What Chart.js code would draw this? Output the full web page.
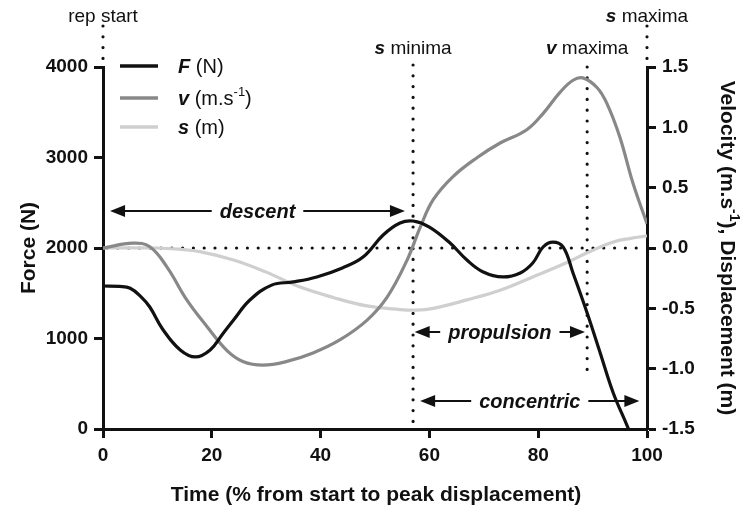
<!DOCTYPE html>
<html><head><meta charset="utf-8">
<script src="https://cdn.jsdelivr.net/npm/chart.js@4"></script>
<style>html,body{margin:0;padding:0;background:#fff;}canvas{display:block;}</style>
</head><body>
<canvas id="c" width="751" height="515"></canvas>
<script>
// ---- data ----
const forceTime = [0,3,5,7,8.6,11,14.2,17,19.7,22,24,27,31,35,39.3,44,47.8,51.5,54.6,57,60,63.8,66.9,69.9,73.5,76.7,79,80.9,82.7,84.6,86.4,89,91.4,93.8,96.3,98,100];
const forceN    = [1580,1575,1555,1460,1348,1100,873,796,873,1050,1204,1425,1590,1625,1680,1780,1900,2144,2276,2298,2232,2055,1867,1735,1680,1724,1834,2011,2066,2011,1724,1282,840,398,44,-200,-450];

const velTime = [0,5.5,8.6,11.8,15.4,19.1,22.8,25.7,29.4,33.8,38.6,43.6,48.5,52.2,55.9,58.3,60.7,64.3,68.8,73,77.9,81,84,86.4,88.2,90.8,92.6,95,97.4,100];
const velMS   = [0,0.04,0.01,-0.16,-0.43,-0.65,-0.85,-0.94,-0.97,-0.94,-0.87,-0.76,-0.60,-0.41,-0.10,0.17,0.40,0.59,0.75,0.87,0.98,1.12,1.29,1.39,1.41,1.33,1.20,0.92,0.54,0.20];

const dispTime = [0,10,14,17.8,24,30,36,42.3,48.5,54.6,57.5,60.7,66.9,73,79,85.3,89,93.8,97,100];
const dispM    = [0,0,-0.01,-0.03,-0.10,-0.20,-0.32,-0.41,-0.48,-0.51,-0.515,-0.50,-0.43,-0.35,-0.24,-0.12,-0.04,0.05,0.08,0.10];

const xTicks = [0,20,40,60,80,100];
const forceTicks = [0,1000,2000,3000,4000];
const velTicks = [-1.5,-1.0,-0.5,0.0,0.5,1.0,1.5];

const markerNames = ['rep start','s minima','v maxima','s maxima'];
const markerTimes = [0,57,89,100];
const phaseNames = ['descent','propulsion','concentric'];
const phaseStart = [1.3,57.3,58.3];
const phaseEnd   = [55.5,88.6,98.6];

// ---- helpers ----
const FONT = '"Liberation Sans", Arial, Helvetica, sans-serif';
function toXY(xs, ys){ return xs.map((x,i)=>({x:x,y:ys[i]})); }
function font(size, bold, italic){ return (italic?'italic ':'')+(bold?'bold ':'')+size+'px '+FONT; }
function drawRuns(ctx, runs, x, y, align){
  let total=0;
  runs.forEach(r=>{ctx.font=r.font; r.w=ctx.measureText(r.text).width; total+=r.w;});
  let cx = align==='center' ? x-total/2 : (align==='right'? x-total : x);
  ctx.textAlign='left';
  runs.forEach(r=>{ctx.font=r.font; ctx.fillText(r.text, cx, y+(r.dy||0)); cx+=r.w;});
}
function dotted(ctx, x1,y1,x2,y2){
  ctx.save(); ctx.strokeStyle='#111'; ctx.lineWidth=3.2; ctx.lineCap='round';
  ctx.setLineDash([0,10.8]);
  ctx.beginPath(); ctx.moveTo(x1,y1); ctx.lineTo(x2,y2); ctx.stroke(); ctx.restore();
}
function arrowHead(ctx, tipX, y, dir){
  ctx.beginPath(); ctx.moveTo(tipX,y); ctx.lineTo(tipX-dir*15,y-6); ctx.lineTo(tipX-dir*15,y+6); ctx.closePath(); ctx.fill();
}
function phaseArrow(ctx, x1, x2, y, label){
  ctx.save();
  ctx.fillStyle='#111'; ctx.strokeStyle='#111'; ctx.lineWidth=2;
  ctx.font=font(20,true,true);
  const w=ctx.measureText(label).width;
  const cx=(x1+x2)/2;
  ctx.textAlign='center'; ctx.textBaseline='middle';
  ctx.fillText(label, cx, y+1);
  ctx.beginPath();
  ctx.moveTo(x1+10,y); ctx.lineTo(cx-w/2-8,y);
  ctx.moveTo(cx+w/2+8,y); ctx.lineTo(x2-10,y);
  ctx.stroke();
  arrowHead(ctx,x1,y,-1); arrowHead(ctx,x2,y,1);
  ctx.restore();
}

const annot = {
  id:'annot',
  beforeDatasetsDraw(chart){
    const ctx=chart.ctx, xs=chart.scales.x, yv=chart.scales.yV, a=chart.chartArea;
    const y0=yv.getPixelForValue(0);
    dotted(ctx, xs.getPixelForValue(0)+4, y0, xs.getPixelForValue(100)-6, y0);
    dotted(ctx, xs.getPixelForValue(markerTimes[0]), 26, xs.getPixelForValue(markerTimes[0]), a.top-3);
    dotted(ctx, xs.getPixelForValue(markerTimes[1]), a.top-2, xs.getPixelForValue(markerTimes[1]), a.bottom-3);
    dotted(ctx, xs.getPixelForValue(markerTimes[2]), a.top, xs.getPixelForValue(markerTimes[2]), a.bottom-55);
    dotted(ctx, xs.getPixelForValue(markerTimes[3]), 26, xs.getPixelForValue(markerTimes[3]), a.top-3);
  },
  afterDatasetsDraw(chart){
    const ctx=chart.ctx, xs=chart.scales.x, a=chart.chartArea;
    ctx.save();
    ctx.fillStyle='#111'; ctx.textBaseline='alphabetic';
    const lab=(i,y)=>{
      const parts=markerNames[i].split(' ');
      const x=xs.getPixelForValue(markerTimes[i]);
      if(i===0){ ctx.font=font(19,false,false); ctx.textAlign='center'; ctx.fillText(markerNames[i], x, y); }
      else drawRuns(ctx,[{text:parts[0],font:font(19,true,true)},{text:' '+parts[1],font:font(19,false,false)}],x,y,'center');
    };
    lab(0,22); lab(1,54); lab(2,54); lab(3,22);
    phaseArrow(ctx, xs.getPixelForValue(phaseStart[0]), xs.getPixelForValue(phaseEnd[0]), 211, phaseNames[0]);
    phaseArrow(ctx, xs.getPixelForValue(phaseStart[1]), xs.getPixelForValue(phaseEnd[1]), 332, phaseNames[1]);
    phaseArrow(ctx, xs.getPixelForValue(phaseStart[2]), xs.getPixelForValue(phaseEnd[2]), 401, phaseNames[2]);
    // legend
    const leg=[{c:'#111',sym:'F',unit:' (N)',y:66},{c:'#888',sym:'v',unit:' (m.s',sup:'-1',end:')',y:98},{c:'#cfcfcf',sym:'s',unit:' (m)',y:127}];
    leg.forEach(l=>{
      ctx.strokeStyle=l.c; ctx.lineWidth=3.5; ctx.beginPath(); ctx.moveTo(120,l.y); ctx.lineTo(158,l.y); ctx.stroke();
      ctx.fillStyle='#111';
      const runs=[{text:l.sym,font:font(20,true,true)},{text:l.unit,font:font(20,false,false)}];
      if(l.sup){ runs.push({text:l.sup,font:font(13,false,false),dy:-9}); runs.push({text:l.end,font:font(20,false,false)}); }
      drawRuns(ctx,runs,178,l.y+7,'left');
    });
    // axis titles
    ctx.fillStyle='#111';
    ctx.save(); ctx.translate(35,248); ctx.rotate(-Math.PI/2);
    ctx.font=font(21,true,false); ctx.textAlign='center'; ctx.fillText('Force (N)',0,0); ctx.restore();
    ctx.save(); ctx.translate(721,248); ctx.rotate(Math.PI/2);
    drawRuns(ctx,[{text:'Velocity (m.s',font:font(21,true,false)},{text:'-1',font:font(14,true,false),dy:-9},{text:'), Displacement (m)',font:font(21,true,false)}],0,0,'center');
    ctx.restore();
    ctx.font=font(21,true,false); ctx.textAlign='center';
    ctx.fillText('Time (% from start to peak displacement)', 376, 501);
    ctx.restore();
  }
};

const axisCommon = {
  border:{display:true,width:3,color:'#111'},
  grid:{drawOnChartArea:false,drawTicks:true,tickLength:9,tickWidth:3,tickColor:'#111'},
};
const tickFont = {family:FONT,size:19,weight:'bold'};

new Chart(document.getElementById('c'),{
  type:'line',
  data:{datasets:[
    {label:'F (N)',data:toXY(forceTime,forceN),yAxisID:'yF',borderColor:'#111',borderWidth:3.2},
    {label:'v (m.s-1)',data:toXY(velTime,velMS),yAxisID:'yV',borderColor:'#888',borderWidth:3.2},
    {label:'s (m)',data:toXY(dispTime,dispM),yAxisID:'yV',borderColor:'#cfcfcf',borderWidth:3.2}
  ]},
  options:{
    responsive:false, animation:false, devicePixelRatio:1,
    layout:{padding:{top:67,left:0,right:0,bottom:0}},
    elements:{point:{radius:0},line:{tension:0.4}},
    plugins:{legend:{display:false},tooltip:{enabled:false}},
    scales:{
      x:Object.assign({type:'linear',min:0,max:100,
        afterBuildTicks(s){s.ticks=xTicks.map(v=>({value:v}));},
        afterFit(s){s.height=86;},
        ticks:{color:'#111',font:tickFont,padding:6,maxRotation:0,callback:v=>String(v)}},axisCommon),
      yF:Object.assign({type:'linear',position:'left',min:0,max:4000,
        afterBuildTicks(s){s.ticks=forceTicks.map(v=>({value:v}));},
        afterFit(s){s.width=103;},
        ticks:{color:'#111',font:tickFont,padding:6,callback:v=>String(v)}},axisCommon),
      yV:Object.assign({type:'linear',position:'right',min:-1.5,max:1.5,
        afterBuildTicks(s){s.ticks=velTicks.map(v=>({value:v}));},
        afterFit(s){s.width=104;},
        ticks:{color:'#111',font:tickFont,padding:6,callback:v=>Number(v).toFixed(1)}},axisCommon)
    }
  },
  plugins:[annot]
});
</script>
</body></html>
